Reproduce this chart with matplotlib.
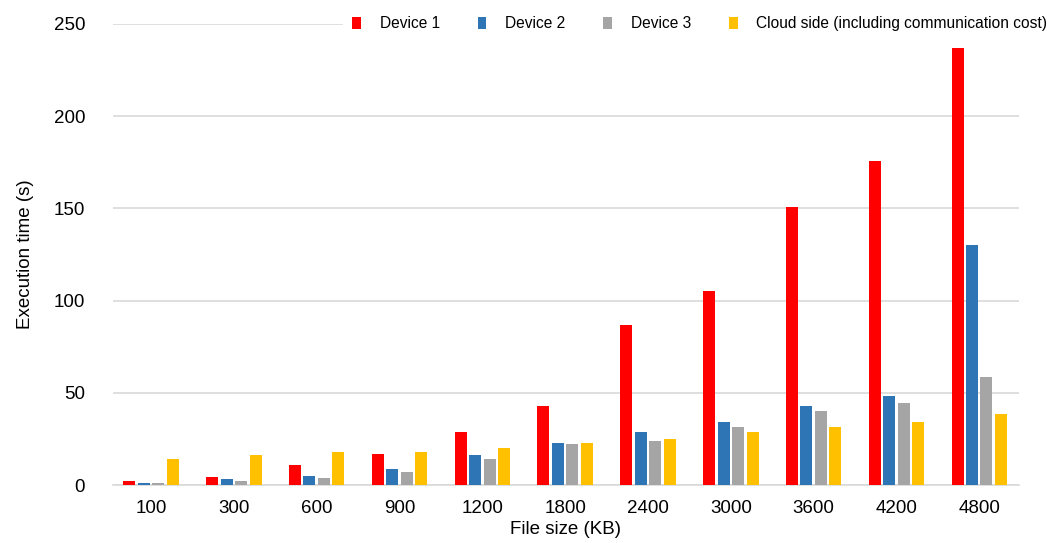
import matplotlib
matplotlib.use('Agg')
import matplotlib.pyplot as plt
import numpy as np

plt.rcParams['font.family'] = ['Liberation Sans', 'DejaVu Sans']

# Execution time per file size
file_sizes = ['100', '300', '600', '900', '1200', '1800', '2400', '3000', '3600', '4200', '4800']
device1 = [2, 4.5, 11, 17, 29, 43, 87, 105, 151, 175.5, 237]
device2 = [1, 3, 5, 8.5, 16, 23, 29, 34, 43, 48, 130.2]
device3 = [1, 2, 4, 7, 14, 22, 24, 31.5, 40, 44.5, 58.5]
cloud = [14, 16.3, 18, 18, 20, 23, 25, 28.7, 31.5, 34, 38.7]

series = [
    ('Device 1', device1, '#ff0000'),
    ('Device 2', device2, '#2e75b6'),
    ('Device 3', device3, '#a5a5a5'),
    ('Cloud side (including communication cost)', cloud, '#ffc000'),
]

x = np.arange(len(file_sizes))
width = 0.145
step = 0.175

fig = plt.figure(figsize=(10.47, 5.43), dpi=100)
ax = fig.add_axes([113 / 1047, 58 / 543, 906 / 1047, 461 / 543])

for i, (name, vals, color) in enumerate(series):
    ax.bar(x + (i - 1.5) * step, vals, width, label=name, color=color, zorder=3)

ax.set_xlim(-0.46, 10.48)
ax.set_ylim(0, 250)
ax.set_yticks(range(0, 251, 50))
ax.set_xticks(x)
ax.set_xticklabels(file_sizes)
ax.tick_params(axis='both', length=0, labelsize=13.5)
ax.tick_params(axis='x', pad=11)
ax.tick_params(axis='y', pad=20)
ax.grid(axis='y', color='#d9d9d9', linewidth=1.2, zorder=0)
for side in ['top', 'right', 'left']:
    ax.spines[side].set_visible(False)
ax.spines['bottom'].set_color('#d9d9d9')
ax.spines['bottom'].set_linewidth(1.2)

ax.set_xlabel('File size (KB)', fontsize=13.5, labelpad=3)
ax.set_ylabel('Execution time (s)', fontsize=13.5, labelpad=14)

leg = ax.legend(loc='center right', bbox_to_anchor=(1.050, 1.0), ncol=4, frameon=True,
                fontsize=11.2, handlelength=0.55, handleheight=0.75, handletextpad=1.2,
                columnspacing=2.45, borderpad=0.6, fancybox=False)
leg.get_frame().set_facecolor('white')
leg.get_frame().set_edgecolor('white')
leg.get_frame().set_alpha(1)
leg.set_zorder(2)

plt.savefig('out.png', dpi=100)
